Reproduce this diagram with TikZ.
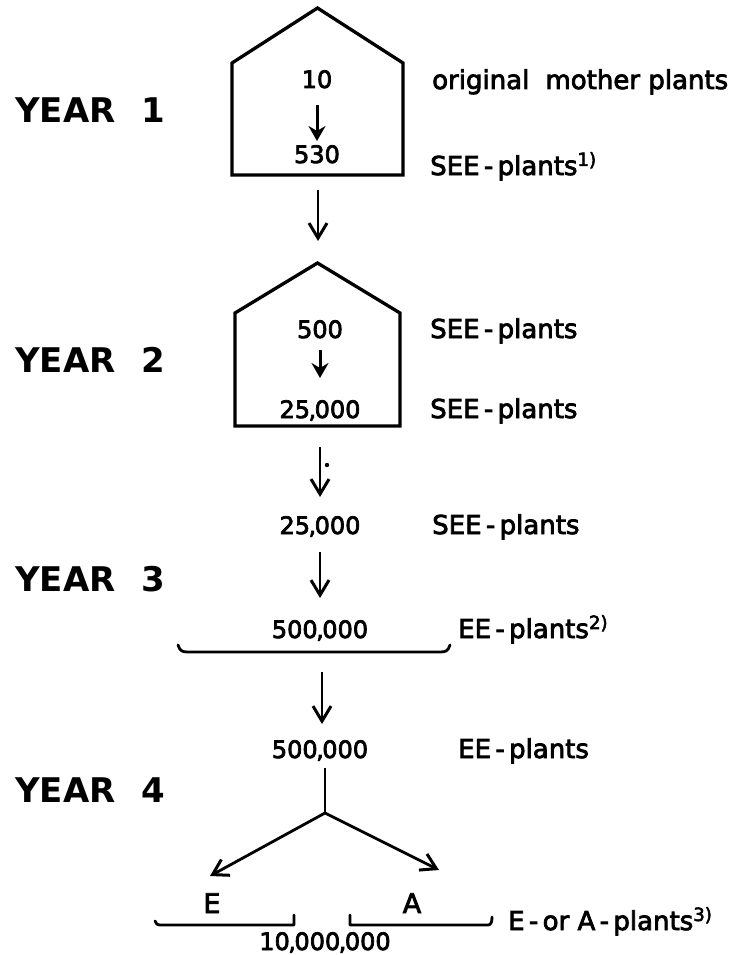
\documentclass[tikz,border=0pt]{standalone}
\usepackage{fontspec}
\setmainfont{DejaVu Sans}
\newfontfamily\labfont{DejaVu Sans}[FakeBold=3]
\newfontfamily\yrfont{DejaVu Sans Bold}
\usetikzlibrary{arrows.meta}
\tikzset{
  lbl/.style={font=\labfont\fontsize{26}{30}\selectfont, anchor=base west, inner sep=0pt},
  num/.style={font=\labfont\fontsize{24}{28}\selectfont, anchor=base, inner sep=0pt},
  big/.style={font=\labfont\fontsize{27}{30}\selectfont, anchor=base, inner sep=0pt},
  yr/.style={font=\yrfont\fontsize{34}{40}\selectfont, anchor=base west, inner sep=0pt},
  flow/.style={line width=2.8pt, -{Straight Barb[length=15pt,width=18pt,line width=3pt]}},
  inflow/.style={line width=3pt, -{Stealth[length=15pt,width=17pt,inset=5pt]}},
  wall/.style={line width=3.3pt, line join=miter},
  brk/.style={line width=2.8pt, line join=round, line cap=round}
}
\newcommand{\sep}{\kern-1.5pt,\kern-1.5pt}
\begin{document}
\begin{tikzpicture}[x=1pt,y=-1pt]
\useasboundingbox (0,0) rectangle (731,955);
% year labels
\node[yr] (y1) at (15,123) {YEAR\hspace{0.75em}1};
\node[yr] (y2) at (15,372) {YEAR\hspace{0.75em}2};
\node[yr] (y3) at (15,591) {YEAR\hspace{0.75em}3};
\node[yr] (y4) at (15,802) {YEAR\hspace{0.75em}4};
% houses
\draw[wall] (232,175) -- (232,63) -- (317.5,8) -- (403,63) -- (403,175) -- cycle;
\draw[wall] (235,426) -- (235,313) -- (317.5,263) -- (400,313) -- (400,426) -- cycle;
% numbers
\node[num] (n10) at (317,88) {10};
\node[num] (n530) at (317,163) {530};
\node[num] (n500) at (320,338) {500};
\node[num] (n25a) at (320,418) {25\sep000};
\node[num] (n25b) at (320,534) {25\sep000};
\node[num] (n500a) at (320,638) {500\sep000};
\node[num] (n500b) at (320,758) {500\sep000};
\node[big] (nE) at (212,913) {E};
\node[big] (nA) at (412,913) {A};
\node[num] (n10m) at (325,950) {10\sep000\sep000};
% right labels
\node[lbl] (l1) at (432,89) {original\hspace{0.3em} mother plants};
\node[lbl] (l2) at (430,175) {SEE\,-\,plants\textsuperscript{1)}};
\node[lbl] (l3) at (430,338) {SEE\,-\,plants};
\node[lbl] (l4) at (430,418) {SEE\,-\,plants};
\node[lbl] (l5) at (432,534) {SEE\,-\,plants};
\node[lbl] (l6) at (458,638) {EE\,-\,plants\textsuperscript{2)}};
\node[lbl] (l7) at (458,758) {EE\,-\,plants};
\node[lbl] (l8) at (508,930) {E\,-\,or A\,-\,plants\textsuperscript{3)}};
% arrow end points
\coordinate (a1s) at (317,105); \coordinate (a1e) at (317,141);
\coordinate (a2s) at (318,190); \coordinate (a2e) at (318,241);
\coordinate (a3s) at (320,350); \coordinate (a3e) at (320,378);
\coordinate (a4s) at (320,447); \coordinate (a4e) at (320,497);
\coordinate (a5s) at (320,552); \coordinate (a5e) at (320,598);
\coordinate (a6s) at (322,672); \coordinate (a6e) at (322,724);
\coordinate (js) at (325,768); \coordinate (jn) at (325,813);
\coordinate (jl) at (210,876); \coordinate (jr) at (439,870);
\draw[inflow] (a1s) -- (a1e);
\draw[flow] (a2s) -- (a2e);
\draw[inflow] (a3s) -- (a3e);
\draw[flow] (a4s) -- (a4e);
\fill (327,465) circle (2.2pt);
\draw[flow] (a5s) -- (a5e);
\draw[flow] (a6s) -- (a6e);
\draw[line width=2.8pt] (js) -- (jn);
\draw[flow] (jn) -- (jl);
\draw[flow] (jn) -- (jr);
% brackets
\draw[brk] (178,645) .. controls (180,651) and (182,652) .. (188,652) -- (440,652) .. controls (446,652) and (448,651) .. (450,645);
\draw[brk] (155,921) .. controls (156,924) and (157,925) .. (161,925) -- (294,925) -- (294,915);
\draw[brk] (350,915) -- (350,925) -- (488,925) .. controls (491,925) and (492,922) .. (492,917);
\end{tikzpicture}
\end{document}
